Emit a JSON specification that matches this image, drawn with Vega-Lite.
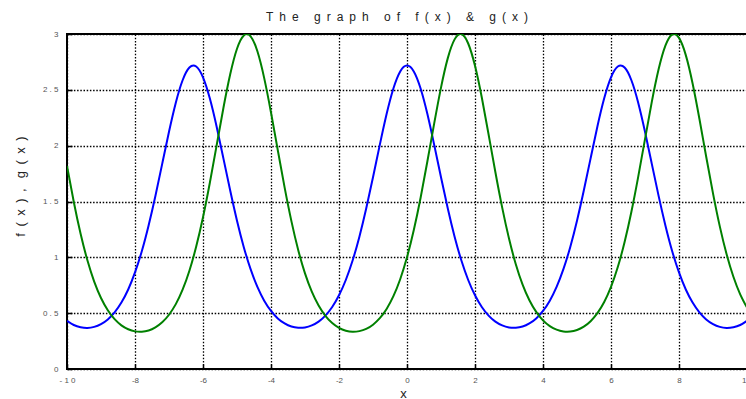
{
  "$schema": "https://vega.github.io/schema/vega-lite/v6.json",
  "width": 680,
  "height": 335,
  "autosize": {"type": "none"},
  "padding": {"left": 67, "top": 34, "right": 0, "bottom": 30},
  "background": "white",
  "title": {
    "text": "T\u2002h\u2002e\u2002 \u2002g\u2002r\u2002a\u2002p\u2002h\u2002 \u2002o\u2002f\u2002 \u2002f\u2002(\u2002x\u2002)\u2002 \u2002&\u2002 \u2002g\u2002(\u2002x\u2002)",
    "font": "Liberation Sans",
    "fontSize": 12,
    "fontWeight": "normal",
    "color": "#222222",
    "anchor": "middle",
    "frame": "group",
    "baseline": "alphabetic",
    "offset": 13,
    "dx": -10,
    "dy": 16
  },
  "data": {
    "values": [
      {"x": -10, "f": 0.432, "g": 1.818},
      {"x": -9.8, "f": 0.394, "g": 1.496},
      {"x": -9.6, "f": 0.374, "g": 1.211},
      {"x": -9.4, "f": 0.368, "g": 0.973},
      {"x": -9.2, "f": 0.377, "g": 0.783},
      {"x": -9.0, "f": 0.402, "g": 0.636},
      {"x": -8.8, "f": 0.444, "g": 0.526},
      {"x": -8.6, "f": 0.507, "g": 0.446},
      {"x": -8.4, "f": 0.595, "g": 0.391},
      {"x": -8.2, "f": 0.712, "g": 0.356},
      {"x": -8.0, "f": 0.865, "g": 0.337},
      {"x": -7.8, "f": 1.055, "g": 0.334},
      {"x": -7.6, "f": 1.286, "g": 0.345},
      {"x": -7.4, "f": 1.550, "g": 0.373},
      {"x": -7.2, "f": 1.837, "g": 0.418},
      {"x": -7.0, "f": 2.125, "g": 0.486},
      {"x": -6.8, "f": 2.385, "g": 0.581},
      {"x": -6.6, "f": 2.586, "g": 0.710},
      {"x": -6.4, "f": 2.700, "g": 0.880},
      {"x": -6.2, "f": 2.709, "g": 1.096},
      {"x": -6.0, "f": 2.612, "g": 1.359},
      {"x": -5.8, "f": 2.424, "g": 1.666},
      {"x": -5.6, "f": 2.172, "g": 2.001},
      {"x": -5.4, "f": 1.886, "g": 2.337},
      {"x": -5.2, "f": 1.598, "g": 2.639},
      {"x": -5.0, "f": 1.328, "g": 2.868},
      {"x": -4.8, "f": 1.091, "g": 2.987},
      {"x": -4.6, "f": 0.894, "g": 2.979},
      {"x": -4.4, "f": 0.735, "g": 2.845},
      {"x": -4.2, "f": 0.612, "g": 2.605},
      {"x": -4.0, "f": 0.520, "g": 2.297},
      {"x": -3.8, "f": 0.453, "g": 1.959},
      {"x": -3.6, "f": 0.408, "g": 1.626},
      {"x": -3.4, "f": 0.380, "g": 1.324},
      {"x": -3.2, "f": 0.369, "g": 1.066},
      {"x": -3.0, "f": 0.372, "g": 0.856},
      {"x": -2.8, "f": 0.390, "g": 0.692},
      {"x": -2.6, "f": 0.424, "g": 0.568},
      {"x": -2.4, "f": 0.478, "g": 0.476},
      {"x": -2.2, "f": 0.555, "g": 0.411},
      {"x": -2.0, "f": 0.660, "g": 0.368},
      {"x": -1.8, "f": 0.797, "g": 0.343},
      {"x": -1.6, "f": 0.971, "g": 0.333},
      {"x": -1.4, "f": 1.185, "g": 0.339},
      {"x": -1.2, "f": 1.437, "g": 0.359},
      {"x": -1.0, "f": 1.717, "g": 0.397},
      {"x": -0.8, "f": 2.007, "g": 0.455},
      {"x": -0.6, "f": 2.283, "g": 0.538},
      {"x": -0.4, "f": 2.512, "g": 0.652},
      {"x": -0.2, "f": 2.665, "g": 0.804},
      {"x": 0, "f": 2.718, "g": 1.000},
      {"x": 0.2, "f": 2.665, "g": 1.244},
      {"x": 0.4, "f": 2.512, "g": 1.534},
      {"x": 0.6, "f": 2.283, "g": 1.860},
      {"x": 0.8, "f": 2.007, "g": 2.199},
      {"x": 1.0, "f": 1.717, "g": 2.520},
      {"x": 1.2, "f": 1.437, "g": 2.784},
      {"x": 1.4, "f": 1.185, "g": 2.952},
      {"x": 1.6, "f": 0.971, "g": 2.999},
      {"x": 1.8, "f": 0.797, "g": 2.915},
      {"x": 2.0, "f": 0.660, "g": 2.715},
      {"x": 2.2, "f": 0.555, "g": 2.431},
      {"x": 2.4, "f": 0.478, "g": 2.100},
      {"x": 2.6, "f": 0.424, "g": 1.762},
      {"x": 2.8, "f": 0.390, "g": 1.445},
      {"x": 3.0, "f": 0.372, "g": 1.168},
      {"x": 3.2, "f": 0.369, "g": 0.938},
      {"x": 3.4, "f": 0.380, "g": 0.755},
      {"x": 3.6, "f": 0.408, "g": 0.615},
      {"x": 3.8, "f": 0.453, "g": 0.511},
      {"x": 4.0, "f": 0.520, "g": 0.435},
      {"x": 4.2, "f": 0.612, "g": 0.384},
      {"x": 4.4, "f": 0.735, "g": 0.352},
      {"x": 4.6, "f": 0.894, "g": 0.336},
      {"x": 4.8, "f": 1.091, "g": 0.335},
      {"x": 5.0, "f": 1.328, "g": 0.349},
      {"x": 5.2, "f": 1.598, "g": 0.379},
      {"x": 5.4, "f": 1.886, "g": 0.428},
      {"x": 5.6, "f": 2.172, "g": 0.500},
      {"x": 5.8, "f": 2.424, "g": 0.600},
      {"x": 6.0, "f": 2.612, "g": 0.736},
      {"x": 6.2, "f": 2.709, "g": 0.913},
      {"x": 6.4, "f": 2.700, "g": 1.137},
      {"x": 6.6, "f": 2.586, "g": 1.408},
      {"x": 6.8, "f": 2.385, "g": 1.721},
      {"x": 7.0, "f": 2.125, "g": 2.058},
      {"x": 7.2, "f": 1.837, "g": 2.392},
      {"x": 7.4, "f": 1.550, "g": 2.684},
      {"x": 7.6, "f": 1.286, "g": 2.896},
      {"x": 7.8, "f": 1.055, "g": 2.995},
      {"x": 8.0, "f": 0.865, "g": 2.965},
      {"x": 8.2, "f": 0.712, "g": 2.811},
      {"x": 8.4, "f": 0.595, "g": 2.557},
      {"x": 8.6, "f": 0.507, "g": 2.241},
      {"x": 8.8, "f": 0.444, "g": 1.901},
      {"x": 9.0, "f": 0.402, "g": 1.573},
      {"x": 9.2, "f": 0.377, "g": 1.277},
      {"x": 9.4, "f": 0.368, "g": 1.028},
      {"x": 9.6, "f": 0.374, "g": 0.826},
      {"x": 9.8, "f": 0.394, "g": 0.669},
      {"x": 10, "f": 0.432, "g": 0.550}
    ]
  },
  "transform": [{"fold": ["f", "g"], "as": ["series", "y"]}],
  "mark": {"type": "line", "interpolate": "natural", "strokeWidth": 2, "clip": true},
  "encoding": {
    "x": {
      "field": "x",
      "type": "quantitative",
      "scale": {"domain": [-10, 10], "nice": false, "zero": false},
      "axis": {
        "values": [-10, -8, -6, -4, -2, 0, 2, 4, 6, 8, 10],
        "labelExpr": "abs(datum.value) >= 10 || datum.value % 1 != 0 ? join(split(toString(datum.value), ''), ' ') : toString(datum.value)",
        "labelPadding": 12,
        "title": "x",
        "titleX": 336,
        "titleY": 28,
        "titleAlign": "center",
        "titleBaseline": "alphabetic"
      }
    },
    "y": {
      "field": "y",
      "type": "quantitative",
      "scale": {"domain": [0, 3], "nice": false},
      "axis": {
        "values": [0, 0.5, 1, 1.5, 2, 2.5, 3],
        "labelExpr": "abs(datum.value) >= 10 || datum.value % 1 != 0 ? join(split(toString(datum.value), ''), ' ') : toString(datum.value)",
        "labelPadding": 14,
        "title": "f\u2002(\u2002x\u2002)\u2002, \u2002g\u2002(\u2002x\u2002)",
        "titleAngle": -90,
        "titleX": -43,
        "titleY": 152,
        "titleAlign": "center",
        "titleBaseline": "alphabetic"
      }
    },
    "color": {
      "field": "series",
      "type": "nominal",
      "scale": {"domain": ["f", "g"], "range": ["#0000ff", "#008000"]},
      "legend": null
    }
  },
  "config": {
    "view": {"stroke": "black", "strokeWidth": 2},
    "axis": {
      "grid": true,
      "gridColor": "black",
      "gridOpacity": 1,
      "gridWidth": 1.3,
      "gridDash": [1.5, 1.7],
      "domain": false,
      "ticks": true,
      "tickSize": -5,
      "tickColor": "black",
      "tickWidth": 1.5,
      "labelFont": "Liberation Sans",
      "labelFontSize": 8,
      "labelColor": "#555555",
      "labelOverlap": false,
      "labelFlush": false,
      "titleFont": "Liberation Sans",
      "titleFontSize": 13,
      "titleFontWeight": "normal",
      "titleColor": "#222222"
    }
  }
}
